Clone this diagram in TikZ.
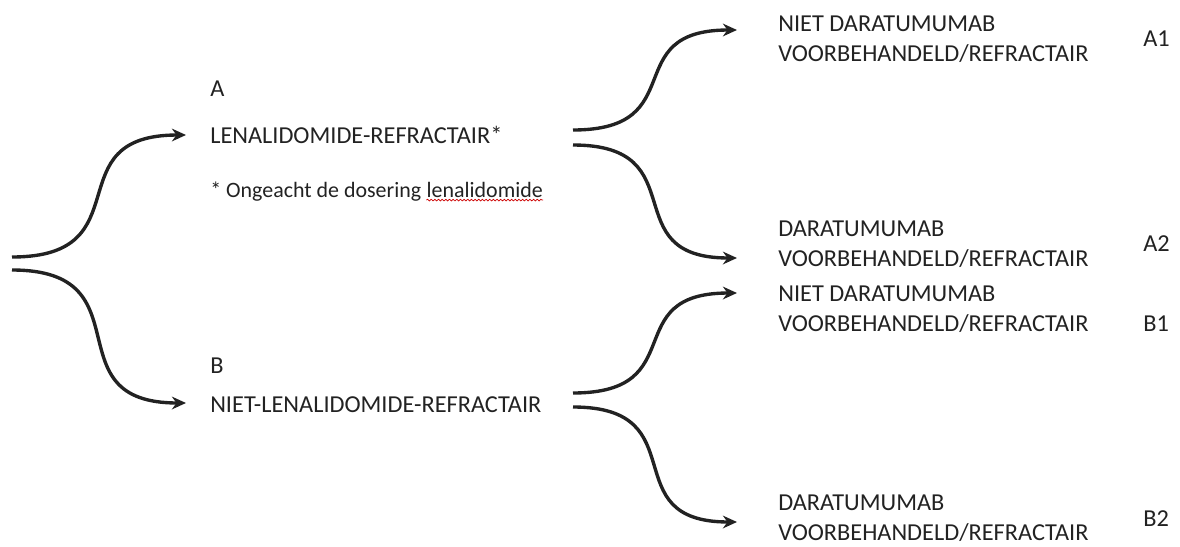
\documentclass[tikz,border=0pt]{standalone}
\usepackage{fontspec}
\setmainfont{Carlito}
\usetikzlibrary{arrows.meta,%
                decorations.pathmorphing}
\definecolor{ink}{HTML}{222222}
\tikzstyle{txt}=[anchor=base west, inner sep=0pt, text=ink, align=left, font=\fontsize{17.3}{21.3}\selectfont]
\tikzstyle{note}=[txt, font=\fontsize{15.6}{19}\selectfont]
\tikzstyle{fork}=[draw=ink, line width=2.4pt, -{Stealth[length=10pt,width=9pt]}, out=0, in=180, looseness=1.6]
\tikzstyle{squiggle}=[draw=red!80!black, line width=0.5pt, decorate, decoration={snake, amplitude=0.6pt, segment length=2.6pt}]

\begin{document}
\begin{tikzpicture}[x=0.025cm, y=-0.025cm]
  \useasboundingbox (0,0) rectangle (1180,547);

  % left column
  \node[txt] (A) at (210,96) {A};
  \node[txt] (lenref) at (210,143) {LENALIDOMIDE-REFRACTAIR*};
  \node[note] (ong) at (210,197) {* Ongeacht de dosering};
  \node[note] (lena) at ([xshift=3.5pt]ong.base east) {lenalidomide};
  \node[txt] (B) at (210,373) {B};
  \node[txt] (nietlen) at (210,412) {NIET-LENALIDOMIDE-REFRACTAIR};

  % right column (base = last line)
  \node[txt] (a1) at (778,61) {NIET DARATUMUMAB\\VOORBEHANDELD/REFRACTAIR};
  \node[txt] (a2) at (778,266) {DARATUMUMAB\\VOORBEHANDELD/REFRACTAIR};
  \node[txt] (b1) at (778,331) {NIET DARATUMUMAB\\VOORBEHANDELD/REFRACTAIR};
  \node[txt] (b2) at (778,540) {DARATUMUMAB\\VOORBEHANDELD/REFRACTAIR};

  \node[txt] (la1) at (1143,46) {A1};
  \node[txt] (la2) at (1143,251) {A2};
  \node[txt] (lb1) at (1143,331) {B1};
  \node[txt] (lb2) at (1143,526) {B2};

  % fork ends
  \coordinate (s0a) at (12,257);
  \coordinate (s0b) at (12,270);
  \coordinate (tA) at (186,135);
  \coordinate (tB) at (186,403);
  \coordinate (sA1) at (573,130);
  \coordinate (sA2) at (573,145);
  \coordinate (tA1) at (737,30);
  \coordinate (tA2) at (737,258);
  \coordinate (sB1) at (573,393);
  \coordinate (sB2) at (573,407);
  \coordinate (tB1) at (737,293);
  \coordinate (tB2) at (737,522);

  \draw[fork] (s0a) to (tA);
  \draw[fork] (s0b) to (tB);
  \draw[fork] (sA1) to (tA1);
  \draw[fork] (sA2) to (tA2);
  \draw[fork] (sB1) to (tB1);
  \draw[fork] (sB2) to (tB2);

  \draw[squiggle] ([yshift=-2.2pt]lena.base west) -- ([yshift=-2.2pt]lena.base east);
\end{tikzpicture}
\end{document}
